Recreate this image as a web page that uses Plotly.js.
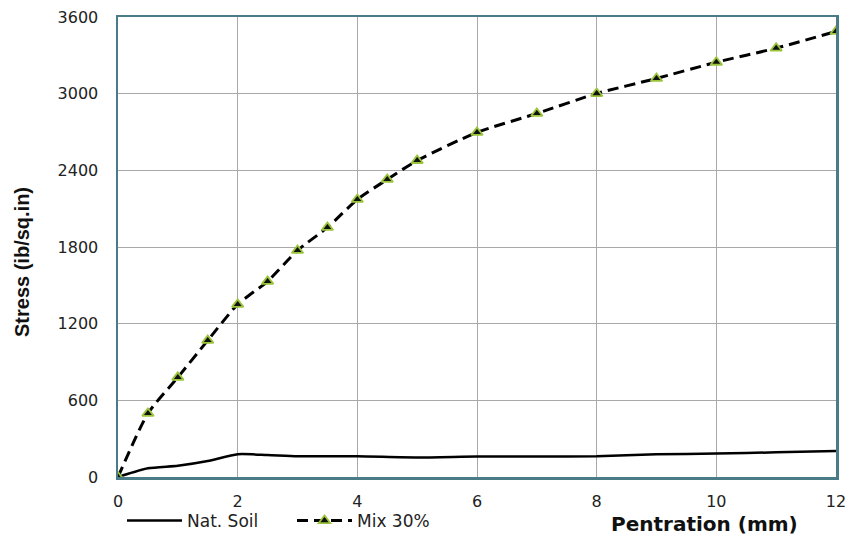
<!DOCTYPE html>
<html>
<head>
<meta charset="utf-8">
<script src="https://cdn.plot.ly/plotly-3.0.1.min.js"></script>
<style>html,body{margin:0;padding:0;background:#fff;}#chart{width:850px;height:536px;}</style>
</head>
<body>
<div id="chart"></div>
<script>
const natX = [0, 0.5, 1, 1.5, 2, 2.5, 3, 4, 5, 6, 7, 8, 9, 10, 11, 12];
const natY = [0, 68, 88, 125, 178, 172, 163, 162, 153, 160, 160, 162, 178, 183, 193, 203];
const mixX = [0, 0.5, 1, 1.5, 2, 2.5, 3, 3.5, 4, 4.5, 5, 6, 7, 8, 9, 10, 11, 12];
const mixY = [0, 498, 780, 1069, 1351, 1531, 1773, 1953, 2172, 2329, 2477, 2697, 2845, 3001, 3119, 3246, 3356, 3487];
const xTicks = [0, 2, 4, 6, 8, 10, 12];
const yTicks = [0, 600, 1200, 1800, 2400, 3000, 3600];

const traces = [
  {x: natX, y: natY, name: 'Nat. Soil', type: 'scatter', mode: 'lines',
   line: {color: '#000', width: 2.5, shape: 'spline', smoothing: 0.6}},
  {x: mixX, y: mixY, name: 'Mix 30%', type: 'scatter', mode: 'lines+markers',
   line: {color: '#000', width: 3, dash: '11px,6px', shape: 'spline', smoothing: 0.6},
   marker: {symbol: 'triangle-up', size: 10, color: '#111', line: {color: '#9ac43a', width: 1.8}}}
];

const layout = {
  width: 850, height: 536,
  margin: {l: 118, r: 14, t: 17, b: 59, autoexpand: false},
  paper_bgcolor: '#fff', plot_bgcolor: '#fff',
  showlegend: true,
  font: {family: 'DejaVu Sans, sans-serif', size: 16, color: '#222'},
  xaxis: {range: [0, 12], tickvals: xTicks, ticktext: xTicks.map(String),
    showgrid: true, gridcolor: '#a8a8a8', gridwidth: 1, zeroline: false,
    showline: true, mirror: true, linecolor: '#4a7c88', linewidth: 2.5,
    ticks: '', ticklabelstandoff: 8, tickfont: {size: 16}, automargin: false},
  yaxis: {range: [0, 3600], tickvals: yTicks, ticktext: yTicks.map(String),
    showgrid: true, gridcolor: '#a8a8a8', gridwidth: 1, zeroline: false,
    showline: true, mirror: true, linecolor: '#4a7c88', linewidth: 2.5,
    ticks: '', ticklabelstandoff: 14, tickfont: {size: 16}, automargin: false},
  legend: {orientation: 'h', xref: 'container', yref: 'container',
    x: 122 / 850, xanchor: 'left', y: 1 - 521 / 536, yanchor: 'middle',
    font: {family: 'DejaVu Sans, sans-serif', size: 17, color: '#222'},
    itemwidth: 55, entrywidth: 100, bgcolor: 'rgba(0,0,0,0)'},
  annotations: [
    {text: '<b>Pentration (mm)</b>', xref: 'paper', yref: 'paper',
     x: (704 - 118) / 718, y: (477 - 524) / 460, xanchor: 'center', yanchor: 'middle',
     showarrow: false, font: {family: 'DejaVu Sans, sans-serif', size: 20, color: '#111'}},
    {text: '<b>Stress (ib/sq.in)</b>', xref: 'paper', yref: 'paper', textangle: -90,
     x: (22 - 118) / 718, y: (477 - 262) / 460, xanchor: 'center', yanchor: 'middle',
     showarrow: false, font: {family: 'Liberation Sans, Arial, sans-serif', size: 20, color: '#111'}}
  ]
};

Plotly.newPlot('chart', traces, layout, {displayModeBar: false, staticPlot: true});
</script>
</body>
</html>
